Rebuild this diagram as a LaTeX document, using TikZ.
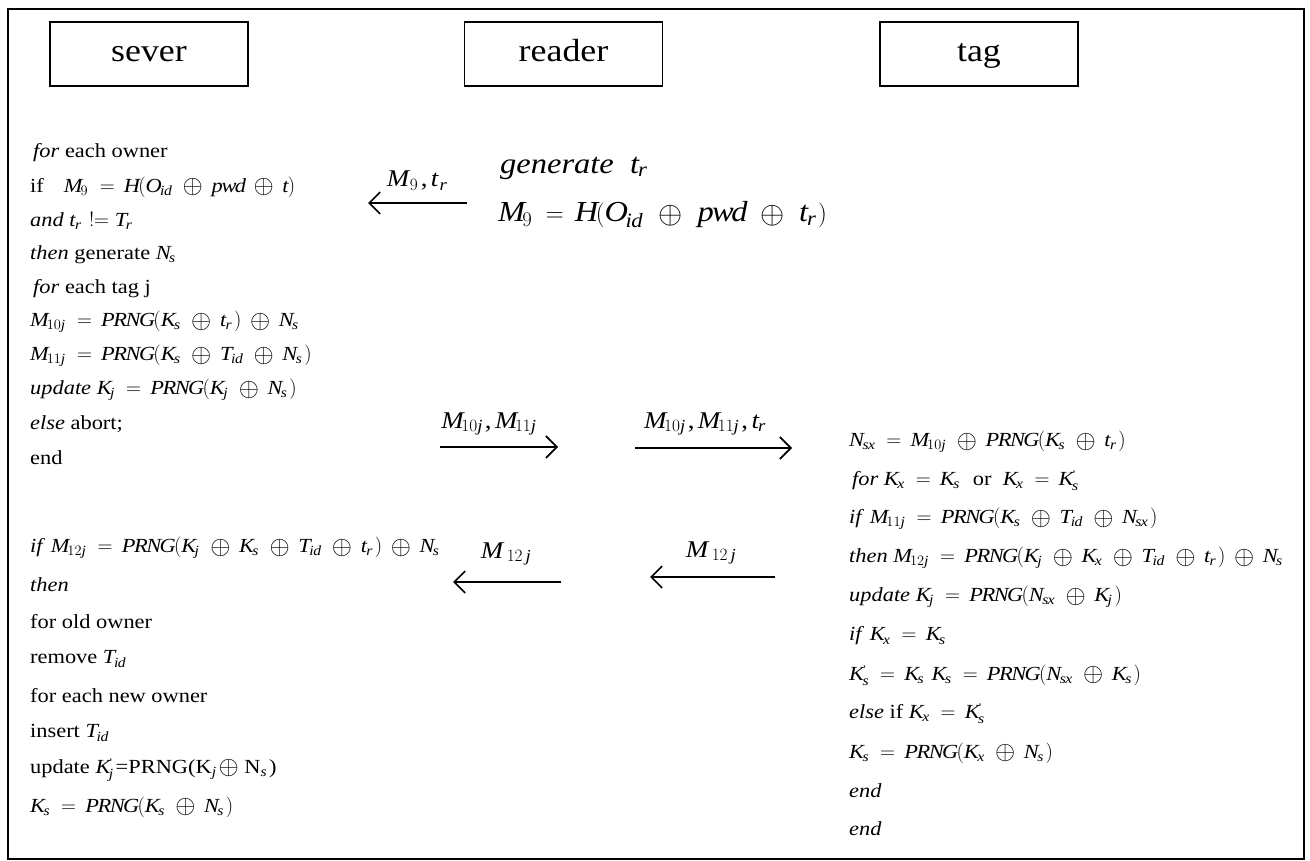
\documentclass[tikz,border=0pt]{standalone}
\usepackage{fontspec}
\setmainfont{Liberation Serif}[NFSSFamily=lsf,FakeStretch=1.12]
\DeclareSymbolFont{letters}{TU}{lsf}{m}{it}
\DeclareSymbolFont{operators}{TU}{lsf}{m}{n}
\AtBeginDocument{\mathcode`,="602C \mathcode`.="002E}
\medmuskip=7.5mu plus 2mu minus 2mu
\thickmuskip=8mu plus 3mu
\scriptspace=3pt
\let\oldoplus\oplus
\renewcommand\oplus{\mathbin{\vcenter{\hbox{\scalebox{1.25}{$\oldoplus$}}}}}
\usetikzlibrary{arrows.meta}
\newcommand\prm{\mbox{\fontsize{10}{10}\selectfont\upshape '}}
\tikzset{
  x=1pt,y=-1pt,
  hdr/.style={draw,line width=1.8pt,minimum width=198pt,minimum height=64pt,inner sep=0pt,
    text height=22pt,text depth=7pt,font=\fontsize{32}{32}\selectfont},
  lt/.style={anchor=west,inner sep=0pt,font=\fontsize{20}{24}\selectfont},
  big/.style={anchor=west,inner sep=0pt,font=\fontsize{29}{30}\selectfont},
  lab/.style={inner sep=0pt,font=\fontsize{24}{26}\selectfont},
  msg/.style={line width=1.6pt,-{Straight Barb[length=11pt,width=22pt]}}
}
\begin{document}
\begin{tikzpicture}
\useasboundingbox (0,0) rectangle (1310,861);
\draw[line width=2pt] (8,9) rectangle (1304,859);
% headers
\node[hdr] (sever) at (149,54) {sever};
\node[hdr] (reader) at (563.5,54) {reader};
\node[hdr] (tag) at (979,54) {tag};
% server, first block
\node[lt] (s1) at (33,153) {\textit{for} each owner};
\node[lt] (s2) at (30,187) {if\quad$M_9 = H(O_{id}\oplus pwd\oplus t)$};
\node[lt] (s3) at (30,221) {\textit{and} $t_r\ {!}{=}\ T_r$};
\node[lt] (s4) at (30,255) {\textit{then} generate $N_s$};
\node[lt] (s5) at (33,289) {\textit{for} each tag j};
\node[lt] (s6) at (30,322) {$M_{10j} = PRNG(K_s\oplus t_r)\oplus N_s$};
\node[lt] (s7) at (30,356) {$M_{11j} = PRNG(K_s\oplus T_{id}\oplus N_s)$};
\node[lt] (s8) at (30,390) {\textit{update} $K_j = PRNG(K_j\oplus N_s)$};
\node[lt] (s9) at (30,424) {\textit{else} abort;};
\node[lt] (s10) at (30,458) {end};
% server, second block
\node[lt] (u1) at (30,548) {\textit{if}\ $M_{12j} = PRNG(K_j\oplus K_s\oplus T_{id}\oplus t_r)\oplus N_s$};
\node[lt] (u2) at (30,585) {\textit{then}};
\node[lt] (u3) at (30,622) {for old owner};
\node[lt] (u4) at (30,659) {remove $T_{id}$};
\node[lt] (u5) at (30,696) {for each new owner};
\node[lt] (u6) at (30,733) {insert $T_{id}$};
\node[lt] (u7) at (30,770) {update $K_j^{\prm}$=PRNG(K$_j\oplus$ N$_s$)};
\node[lt] (u8) at (30,807) {$K_s = PRNG(K_s\oplus N_s)$};
% reader
\node[big] (r1) at (500,168) {\textit{generate}\ \ $t_r$};
\node[big] (r2) at (498,215) {$M_9 = H(O_{id}\,\oplus\, pwd\,\oplus\, t_r)$};
% tag
\node[lt] (t1) at (849,442) {$N_{sx} = M_{10j}\oplus PRNG(K_s\oplus t_r)$};
\node[lt] (t2) at (852,481) {\textit{for} $K_x = K_s$\ \ or\ \ $K_x = K_s^{\prm}$};
\node[lt] (t3) at (849,519) {\textit{if}\ $M_{11j} = PRNG(K_s\oplus T_{id}\oplus N_{sx})$};
\node[lt] (t4) at (849,558) {\textit{then} $M_{12j} = PRNG(K_j\oplus K_x\oplus T_{id}\oplus t_r)\oplus N_s$};
\node[lt] (t5) at (849,597) {\textit{update} $K_j = PRNG(N_{sx}\oplus K_j)$};
\node[lt] (t6) at (849,636) {\textit{if}\ $K_x = K_s$};
\node[lt] (t7) at (849,675) {$K_s^{\prm} = K_s\ K_s = PRNG(N_{sx}\oplus K_s)$};
\node[lt] (t8) at (849,714) {\textit{else} if $K_x = K_s^{\prm}$};
\node[lt] (t9) at (849,753) {$K_s = PRNG(K_x\oplus N_s)$};
\node[lt] (t10) at (849,791) {\textit{end}};
\node[lt] (t11) at (849,829) {\textit{end}};
% messages
\coordinate (a1s) at (467,203); \coordinate (a1e) at (368,203);
\draw[msg] (a1s) -- (a1e);
\node[lab] (l1) at (418,181) {$M_{\kern3pt 9}, t_{\kern2pt r}$};
\coordinate (a2s) at (440,447); \coordinate (a2e) at (558,447);
\draw[msg] (a2s) -- (a2e);
\node[lab] (l2) at (490,424) {$M_{10j}, M_{11j}$};
\coordinate (a3s) at (635,448); \coordinate (a3e) at (792,448);
\draw[msg] (a3s) -- (a3e);
\node[lab] (l3) at (706,424) {$M_{10j}, M_{11j}, t_r$};
\coordinate (a4s) at (561,582); \coordinate (a4e) at (453,582);
\draw[msg] (a4s) -- (a4e);
\node[lab] (l4) at (507,554) {$M_{\kern6pt 12\,j}$};
\coordinate (a5s) at (775,577); \coordinate (a5e) at (650,577);
\draw[msg] (a5s) -- (a5e);
\node[lab] (l5) at (712,553) {$M_{\kern6pt 12\,j}$};
\end{tikzpicture}
\end{document}
